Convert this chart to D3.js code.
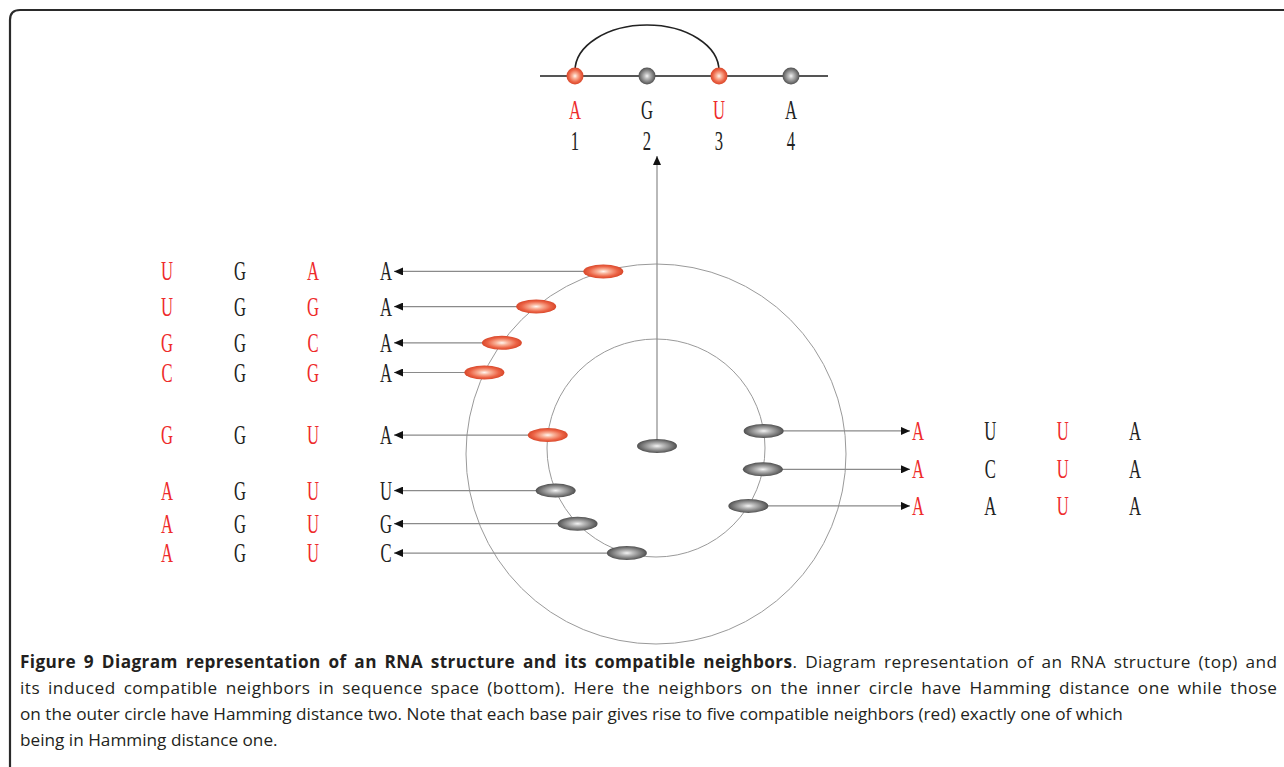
<!DOCTYPE html>
<html><head><meta charset="utf-8">
<script src="https://cdn.jsdelivr.net/npm/d3@7"></script>
<style>body{margin:0;background:#fff} svg{display:block}</style>
</head><body>
<svg id="c" width="1284" height="767"></svg>
<script>
// ---- data ----
const topBases = ["A","G","U","A"];
const topPositions = [1,2,3,4];
const basePairs = [[1,3]];
const neighborSeqs = ["UGAA","UGGA","GGCA","CGGA","GGUA","AGUU","AGUG","AGUC","AUUA","ACUA","AAUA"];
const neighborRing = ["outer","outer","outer","outer","inner","inner","inner","inner","inner","inner","inner"];
const neighborAngle = [-106.1,-129.1,-144.2,-154.6,-173.2,157.0,136.0,105.5,-9.0,11.3,32.1];
const neighborCompatible = [true,true,true,true,true,false,false,false,false,false,false];
const captionBold = "Figure 9 Diagram representation of an RNA structure and its compatible neighbors";
const captionLines = [
  ". Diagram representation of an RNA structure (top) and",
  "its induced compatible neighbors in sequence space (bottom). Here the neighbors on the inner circle have Hamming distance one while those",
  "on the outer circle have Hamming distance two. Note that each base pair gives rise to five compatible neighbors (red) exactly one of which",
  "being in Hamming distance one."
];
const captionJustified = [true, true, false, false];

// ---- drawing ----
const svg = d3.select("#c");
const RED = "#ee2b2b", INK = "#222";
const pairedPos = new Set(basePairs.flat());

const defs = svg.append("defs");
function grad(id, stops){
  const g = defs.append("radialGradient").attr("id", id).attr("cx","50%").attr("cy","50%").attr("r","50%");
  stops.forEach(([o,c]) => g.append("stop").attr("offset", o).attr("stop-color", c));
}
grad("gRed", [[0,"#fff6f0"],[0.3,"#f9b39a"],[0.72,"#ec6446"],[1,"#d8472a"]]);
grad("gGray", [[0,"#f4f4f4"],[0.3,"#bdbdbd"],[0.75,"#787878"],[1,"#505050"]]);
defs.append("marker").attr("id","arr").attr("viewBox","0 -4 9 8").attr("refX",9).attr("refY",0)
  .attr("markerWidth",9).attr("markerHeight",8).attr("markerUnits","userSpaceOnUse").attr("orient","auto")
  .append("path").attr("d","M0,-4L9,0L0,4Z").attr("fill","#111");

// frame
svg.append("path").attr("d","M10,790 V20 Q10,10 20,10 H1300").attr("fill","none")
  .attr("stroke","#2a2a2a").attr("stroke-width",2.2);

// letter helper (condensed serif)
function letter(g, ch, x, y, color, size){
  g.append("text").attr("transform", `translate(${x},${y}) scale(0.64,1.04)`)
    .attr("text-anchor","middle").attr("font-family","'Liberation Serif', serif")
    .attr("font-size", size).attr("fill", color).text(ch);
}

// top structure
const topX = d3.scaleLinear().domain([1,4]).range([575, 791]);
const topY = 76;
const gt = svg.append("g");
gt.append("line").attr("x1", topX(1)-35).attr("x2", topX(4)+37).attr("y1",topY).attr("y2",topY)
  .attr("stroke","#555").attr("stroke-width",2);
basePairs.forEach(([i,j]) => {
  const a = topX(i), b = topX(j), rx = (b-a)/2;
  gt.append("path").attr("d", `M${a},${topY-5} A${rx},46 0 0 1 ${b},${topY-5}`)
    .attr("fill","none").attr("stroke","#222").attr("stroke-width",1.6);
});
topPositions.forEach((p,k) => {
  gt.append("circle").attr("cx", topX(p)).attr("cy", topY).attr("r", 8.5)
    .attr("fill", pairedPos.has(p) ? "url(#gRed)" : "url(#gGray)");
  letter(gt, topBases[k], topX(p), 119, pairedPos.has(p) ? RED : INK, 26);
  letter(gt, String(p), topX(p), 150, INK, 26);
});

// circles
const cx = 656;
const ringR = d3.scaleOrdinal().domain(["inner","outer"]).range([109, 190]);
const ringCy = d3.scaleOrdinal().domain(["inner","outer"]).range([448, 454]);
const gc = svg.append("g");
["outer","inner"].forEach(r => gc.append("circle").attr("cx",cx).attr("cy",ringCy(r)).attr("r",ringR(r))
  .attr("fill","none").attr("stroke","#9a9a9a").attr("stroke-width",1));

const leftCol = d3.scaleLinear().domain([1,4]).range([167, 386]);
const rightCol = d3.scaleLinear().domain([1,4]).range([918, 1135]);

const nodes = neighborSeqs.map((s,i) => {
  const a = neighborAngle[i] * Math.PI/180, r = ringR(neighborRing[i]);
  return {seq:s, x: cx + r*Math.cos(a), y: ringCy(neighborRing[i]) + r*Math.sin(a),
          left: Math.cos(a) < 0, comp: neighborCompatible[i]};
});

// central structure node and arrow to top
const center = {x: cx+1, y: ringCy("inner")-2};
gc.append("line").attr("x1",center.x).attr("y1",center.y).attr("x2",center.x).attr("y2",topY+80)
  .attr("stroke","#8a8a8a").attr("stroke-width",1.2).attr("marker-end","url(#arr)");

// arrows
nodes.forEach(n => {
  const tip = n.left ? leftCol(4)+8 : rightCol(1)-8;
  gc.append("line").attr("x1", n.x).attr("y1", n.y).attr("x2", tip).attr("y2", n.y)
    .attr("stroke","#8a8a8a").attr("stroke-width",1.2).attr("marker-end","url(#arr)");
});
// nodes
gc.append("ellipse").attr("cx",center.x).attr("cy",center.y).attr("rx",20).attr("ry",7).attr("fill","url(#gGray)");
nodes.forEach(n => {
  gc.append("ellipse").attr("cx",n.x).attr("cy",n.y).attr("rx",20).attr("ry",7)
    .attr("fill", n.comp ? "url(#gRed)" : "url(#gGray)");
  const col = n.left ? leftCol : rightCol;
  n.seq.split("").forEach((ch,k) => letter(gc, ch, col(k+1), n.y+9, pairedPos.has(k+1) ? RED : INK, 26));
});

// caption (justified lines: part word spacing, part letter spacing)
const capLeft = 20, capRight = 1277;
const gcap = svg.append("g").attr("font-family","'Open Sans', sans-serif").attr("font-size",17.2).attr("fill","#231f20");
const capY = d3.scaleLinear().domain([0,3]).range([668, 746]);
captionLines.forEach((line,i) => {
  const t = gcap.append("text").attr("x",capLeft).attr("y",capY(i));
  if (i === 0) t.append("tspan").attr("font-weight","bold").text(captionBold);
  t.append("tspan").text(line);
  if (captionJustified[i]) {
    const full = (i === 0 ? captionBold : "") + line;
    const spaces = (full.match(/ /g) || []).length;
    const w = t.node().getComputedTextLength();
    t.attr("word-spacing", 0.5 * ((capRight - capLeft) - w) / spaces)
     .attr("textLength", capRight - capLeft).attr("lengthAdjust","spacing");
  }
});
</script>
</body></html>
